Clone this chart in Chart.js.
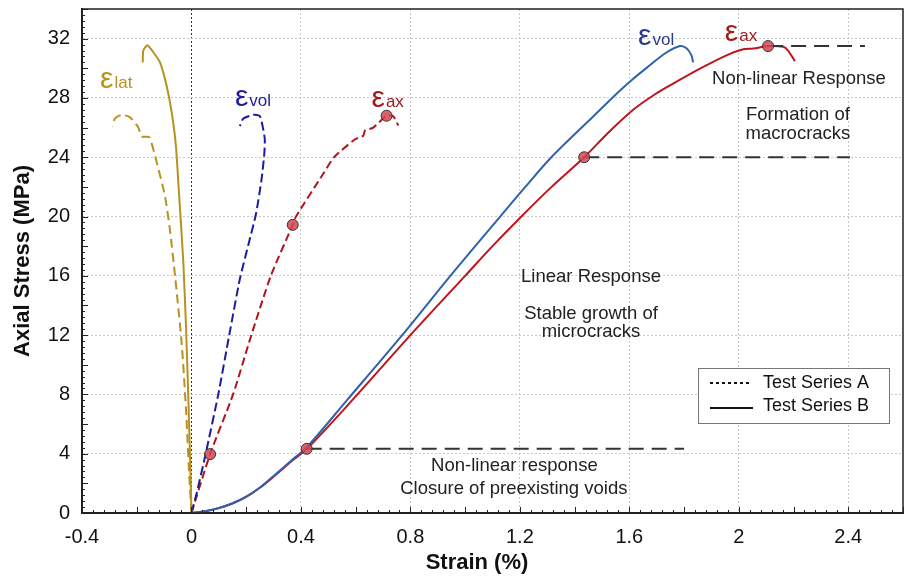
<!DOCTYPE html>
<html>
<head>
<meta charset="utf-8">
<script src="https://cdn.jsdelivr.net/npm/chart.js@4.4.1/dist/chart.umd.min.js"></script>
<style>
html, body { margin: 0; padding: 0; background: #fff; }
#wrap { width: 904px; height: 576px; }
</style>
</head>
<body>
<div id="wrap"><canvas id="grafik" width="904" height="576"></canvas></div>
<script>
// Test Series A (dashed)
const latA_strain = [0, -0.008, -0.02, -0.036, -0.06, -0.079, -0.097, -0.127, -0.154, -0.182, -0.194, -0.225, -0.255, -0.28, -0.288]
const latA_stress = [0, 2.5, 7.0, 11.5, 16.0, 19.15, 21.4, 23.66, 25.35, 25.4, 26.0, 26.7, 26.86, 26.6, 26.07]
const volA_strain = [0, 0.019, 0.052, 0.098, 0.138, 0.177, 0.208, 0.236, 0.256, 0.266, 0.268, 0.262, 0.25, 0.226, 0.189, 0.177]
const volA_stress = [0, 1.33, 4.0, 8.0, 12.0, 15.8, 18.1, 20.2, 22.5, 24.2, 25.2, 25.9, 26.77, 26.86, 26.6, 26.1]
const axA_strain = [0, 0.068, 0.152, 0.217, 0.29, 0.37, 0.382, 0.482, 0.521, 0.597, 0.628, 0.634, 0.664, 0.713, 0.737, 0.756]
const axA_stress = [0, 3.97, 8.0, 11.9, 16.0, 19.44, 20.0, 22.9, 24.0, 25.2, 25.45, 25.8, 26.0, 26.8, 26.77, 26.14]

// Test Series B (solid)
const latB_strain = [0, -0.005, -0.012, -0.02, -0.03, -0.045, -0.057, -0.072, -0.091, -0.115, -0.14, -0.161, -0.176, -0.178]
const latB_stress = [0, 3.6, 8.1, 12.6, 17.0, 21.4, 24.8, 27.0, 28.84, 30.4, 31.1, 31.55, 31.2, 30.4]
const volB_strain = [0, 0.05, 0.1, 0.15, 0.2, 0.25, 0.3, 0.37, 0.42, 0.57, 0.77, 0.946, 1.128, 1.22, 1.315, 1.468, 1.566, 1.608, 1.675, 1.73, 1.785, 1.809, 1.827, 1.833]
const volB_stress = [0, 0.12, 0.34, 0.66, 1.1, 1.72, 2.5, 3.62, 4.4, 7.65, 12.0, 16.0, 20.0, 22.0, 24.0, 26.75, 28.5, 29.2, 30.2, 31.0, 31.5, 31.35, 30.87, 30.4]
const axB_strain = [0, 0.05, 0.1, 0.15, 0.2, 0.25, 0.3, 0.372, 0.421, 0.567, 0.8, 1.0, 1.1, 1.2, 1.31, 1.435, 1.52, 1.614, 1.69, 1.76, 1.858, 1.955, 2.016, 2.053, 2.107, 2.162, 2.18, 2.205]
const axB_stress = [0, 0.12, 0.33, 0.64, 1.08, 1.7, 2.45, 3.59, 4.31, 7.19, 12.0, 16.0, 18.0, 19.9, 21.9, 24.0, 25.6, 27.2, 28.2, 28.96, 29.97, 30.87, 31.28, 31.33, 31.5, 31.45, 31.2, 30.47]

// belgilangan nuqtalar
const marker_strain = [0.068, 0.37, 0.713, 0.421, 1.435, 2.107]
const marker_stress = [3.97, 19.44, 26.8, 4.33, 24.0, 31.5]

// gorizontal chiziqlar
const ref_stress = [4.33, 24.0, 31.5]
const ref_start = [0.421, 1.435, 2.107]
const ref_end = [1.8, 2.406, 2.461]

const juft = (xs, ys) => xs.map((v, i) => ({ x: v, y: ys[i] }))

const OLTIN = '#b8921e'
const KOK_A = '#1c1c9a'
const QIZIL_A = '#b3131b'
const KOK_B = '#2f62ad'
const QIZIL_B = '#c0141a'

const chiziq = (data, color, dash, tension) => ({
	type: 'scatter',
	data,
	showLine: true,
	borderColor: color,
	borderWidth: 2,
	borderDash: dash || [],
	pointRadius: 0,
	pointHoverRadius: 0,
	tension: tension === undefined ? 0.2 : tension,
	order: 2,
})

const datasets = [
	{
		data: juft(marker_strain, marker_stress),
		pointRadius: 5.5,
		pointBackgroundColor: 'rgba(212,70,82,0.85)',
		pointBorderColor: '#333',
		pointBorderWidth: 1,
		showLine: false,
		order: 0,
	},
	chiziq(juft(latA_strain, latA_stress), OLTIN, [9, 5]),
	chiziq(juft(volA_strain, volA_stress), KOK_A, [9, 4]),
	chiziq(juft(axA_strain, axA_stress), QIZIL_A, [8, 4]),
	chiziq(juft(latB_strain, latB_stress), OLTIN),
	chiziq(juft(volB_strain, volB_stress), KOK_B, [], 0.3),
	chiziq(juft(axB_strain, axB_stress), QIZIL_B, [], 0.3),
]
ref_stress.forEach((s, i) => {
	const d = chiziq([{ x: ref_start[i], y: s }, { x: ref_end[i], y: s }], '#333', [15, 8], 0)
	d.order = 1
	datasets.push(d)
})

// matnlar (ma'lumot koordinatalarida)
const yozuvlar = [
	['Non-linear Response', 2.22, 29.3],
	['Formation of', 2.216, 26.87],
	['macrocracks', 2.216, 25.58],
	['Linear Response', 1.46, 15.95],
	['Stable growth of', 1.46, 13.45],
	['microcracks', 1.46, 12.2],
	['Non-linear response', 1.18, 3.2],
	['Closure of preexisting voids', 1.178, 1.65],
]
const epsilonlar = [
	['lat', -0.334, 28.67, OLTIN],
	['vol', 0.159, 27.43, KOK_A],
	['ax', 0.658, 27.39, '#a01818'],
	['vol', 1.632, 31.59, '#2a3a90'],
	['ax', 1.949, 31.81, '#a01c1c'],
]

const SHRIFT = "'Liberation Sans', Arial, sans-serif"

const bezak = {
	id: 'bezak',
	afterDraw(chart) {
		const { ctx, chartArea: a, scales: { x, y } } = chart
		ctx.save()
		// ramka
		ctx.strokeStyle = '#222'
		ctx.lineWidth = 1.5
		ctx.strokeRect(a.left, a.top, a.right - a.left, a.bottom - a.top)
		// ichkariga qaragan tiklar
		ctx.lineWidth = 1
		ctx.beginPath()
		for (let i = -10; i <= 65; i++) {
			const px = Math.round(x.getPixelForValue(i * 0.04)) + 0.5
			const len = i % 5 === 0 ? 6 : 3
			ctx.moveTo(px, a.bottom)
			ctx.lineTo(px, a.bottom - len)
		}
		for (let i = 0; i <= 85; i++) {
			const py = Math.round(y.getPixelForValue(i * 0.4)) + 0.5
			const len = i % 5 === 0 ? 6 : 3
			ctx.moveTo(a.left, py)
			ctx.lineTo(a.left + len, py)
		}
		ctx.stroke()

		// izohlar
		ctx.fillStyle = '#222'
		ctx.font = '18.5px ' + SHRIFT
		ctx.textAlign = 'center'
		ctx.textBaseline = 'middle'
		yozuvlar.forEach(([t, vx, vy]) => {
			ctx.fillText(t, x.getPixelForValue(vx), y.getPixelForValue(vy))
		})

		// epsilon belgilari
		ctx.textAlign = 'left'
		ctx.textBaseline = 'alphabetic'
		epsilonlar.forEach(([sub, vx, vy, rang]) => {
			const px = x.getPixelForValue(vx)
			const py = y.getPixelForValue(vy)
			ctx.fillStyle = rang
			ctx.font = '30px ' + SHRIFT
			ctx.fillText('ε', px, py)
			const w = ctx.measureText('ε').width
			ctx.font = '17px ' + SHRIFT
			ctx.fillText(sub, px + w + 1, py)
		})

		// x o'qi nomi
		ctx.fillStyle = '#111'
		ctx.font = 'bold 22px ' + SHRIFT
		ctx.textAlign = 'center'
		ctx.textBaseline = 'middle'
		ctx.fillText('Strain (%)', 477, 563)

		// legenda
		const lx = a.right - 205
		const ly = a.bottom - 145
		ctx.fillStyle = '#fff'
		ctx.fillRect(lx, ly, 191, 55)
		ctx.strokeStyle = '#777'
		ctx.lineWidth = 1
		ctx.strokeRect(lx + 0.5, ly + 0.5, 191, 55)
		ctx.strokeStyle = '#111'
		ctx.lineWidth = 2
		ctx.setLineDash([3, 3])
		ctx.beginPath()
		ctx.moveTo(lx + 12, ly + 15)
		ctx.lineTo(lx + 52, ly + 15)
		ctx.stroke()
		ctx.setLineDash([])
		ctx.beginPath()
		ctx.moveTo(lx + 12, ly + 40)
		ctx.lineTo(lx + 55, ly + 40)
		ctx.stroke()
		ctx.fillStyle = '#111'
		ctx.font = '18px ' + SHRIFT
		ctx.textAlign = 'left'
		ctx.fillText('Test Series A', lx + 65, ly + 15)
		ctx.fillText('Test Series B', lx + 65, ly + 38)
		ctx.restore()
	},
}

const karrali = (step) => (s) => {
	s.ticks = s.ticks.filter((t) => Math.abs(t.value / step - Math.round(t.value / step)) < 1e-6)
}

Chart.defaults.font.family = SHRIFT

new Chart(document.getElementById('grafik').getContext('2d'), {
	type: 'scatter',
	data: { datasets },
	options: {
		responsive: false,
		animation: false,
		layout: { autoPadding: false, padding: { top: 9, right: 1, left: 0, bottom: 0 } },
		plugins: {
			legend: { display: false },
			tooltip: { enabled: false },
		},
		scales: {
			x: {
				type: 'linear',
				min: -0.4,
				max: 2.6,
				afterFit: (s) => {
					s.height = 63
					s.paddingLeft = 0
					s.paddingRight = 0
				},
				afterBuildTicks: karrali(0.4),
				ticks: {
					stepSize: 0.4,
					padding: 12,
					color: '#111',
					font: { size: 20 },
					maxRotation: 0,
					callback: (v) => String(+v.toFixed(2)),
				},
				grid: {
					drawTicks: false,
					color: (c) => (c.tick && Math.abs(c.tick.value) < 1e-9 ? '#333' : '#c8c8c8'),
					lineWidth: 1,
				},
				border: { color: '#222', width: 2, dash: [2, 2] },
			},
			y: {
				min: 0,
				max: 34,
				afterFit: (s) => {
					s.width = 82
					s.paddingTop = 0
					s.paddingBottom = 0
				},
				afterBuildTicks: karrali(4),
				ticks: {
					stepSize: 4,
					padding: 12,
					color: '#111',
					font: { size: 20 },
					callback: (v) => String(+v.toFixed(2)),
				},
				grid: { drawTicks: false, color: '#c8c8c8', lineWidth: 1 },
				border: { color: '#222', width: 2, dash: [2, 2] },
				title: {
					display: true,
					text: 'Axial Stress (MPa)',
					color: '#111',
					font: { size: 22, weight: 'bold' },
					padding: { top: 10, bottom: 0 },
				},
			},
		},
	},
	plugins: [bezak],
})
</script>
</body>
</html>
